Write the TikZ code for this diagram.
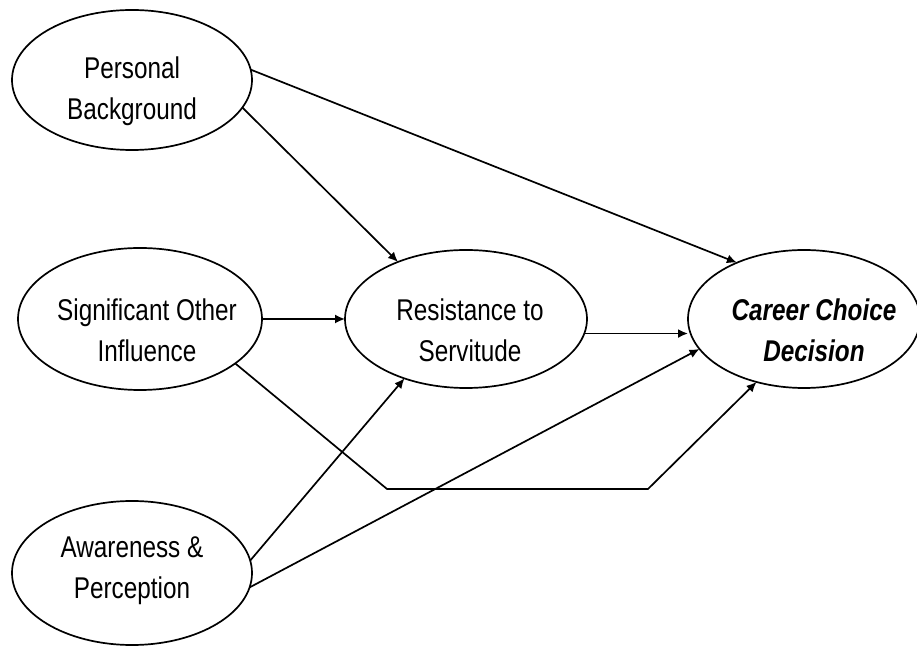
\documentclass[tikz,border=0pt]{standalone}
\usepackage{fontspec}
\setmainfont{Liberation Sans}[FakeStretch=0.81]
\usetikzlibrary{shapes.geometric, arrows.meta}
\tikzset{
  blob/.style={draw, ellipse, line width=0.85pt, inner sep=0pt, outer sep=0pt,
    minimum width=120pt, minimum height=70pt},
  blobtext/.style={align=center, font=\fontsize{15pt}{20.5pt}\selectfont},
  lowtext/.style={blobtext, yshift=-5.5pt},
  link/.style={-{Latex[length=5pt, width=4.5pt]}, line width=0.85pt}
}
\begin{document}
\begin{tikzpicture}[x=0.5pt, y=-0.5pt]
    \useasboundingbox (0,0) rectangle (917,646);
    % the five ellipses
    \node[blob, label={[lowtext]center:Personal\\Background}] (pb) at (132,80) {};
    \node[blob, minimum width=122pt, minimum height=71pt,
          label={[lowtext, xshift=3.5pt]center:Significant Other\\Influence}] (soi) at (140,319) {};
    \node[blob, minimum width=120pt, minimum height=72pt,
          label={[blobtext, yshift=1pt]center:Awareness \&\\Perception}] (ap) at (132,573) {};
    \node[blob, minimum width=121pt, minimum height=69pt,
          label={[lowtext, xshift=2pt]center:Resistance to\\Servitude}] (rs) at (466,319) {};
    \node[blob, minimum width=116pt, minimum height=69pt,
          label={[lowtext, xshift=5pt, font=\fontsize{15pt}{20.5pt}\selectfont\bfseries\itshape]center:Career Choice\\Decision}] (ccd) at (804,319) {};
    % bend of the lower path
    \coordinate (bendA) at (387,489);
    \coordinate (bendB) at (648,489);
    % paths
    \draw[link] (pb.5) -- (ccd.140);
    \draw[link] (pb.-14) -- (rs.140);
    \draw[link] (soi.east) -- (rs.west);
    \draw[link] (rs.-7) -- (rs.-7 -| ccd.west);
    \draw[link] (soi.-25) -- (bendA) -- (bendB) -- (ccd.233);
    \draw[link] (ap.6) -- (rs.224);
    \draw[link] (ap.-7) -- (ccd.196);
\end{tikzpicture}
\end{document}
